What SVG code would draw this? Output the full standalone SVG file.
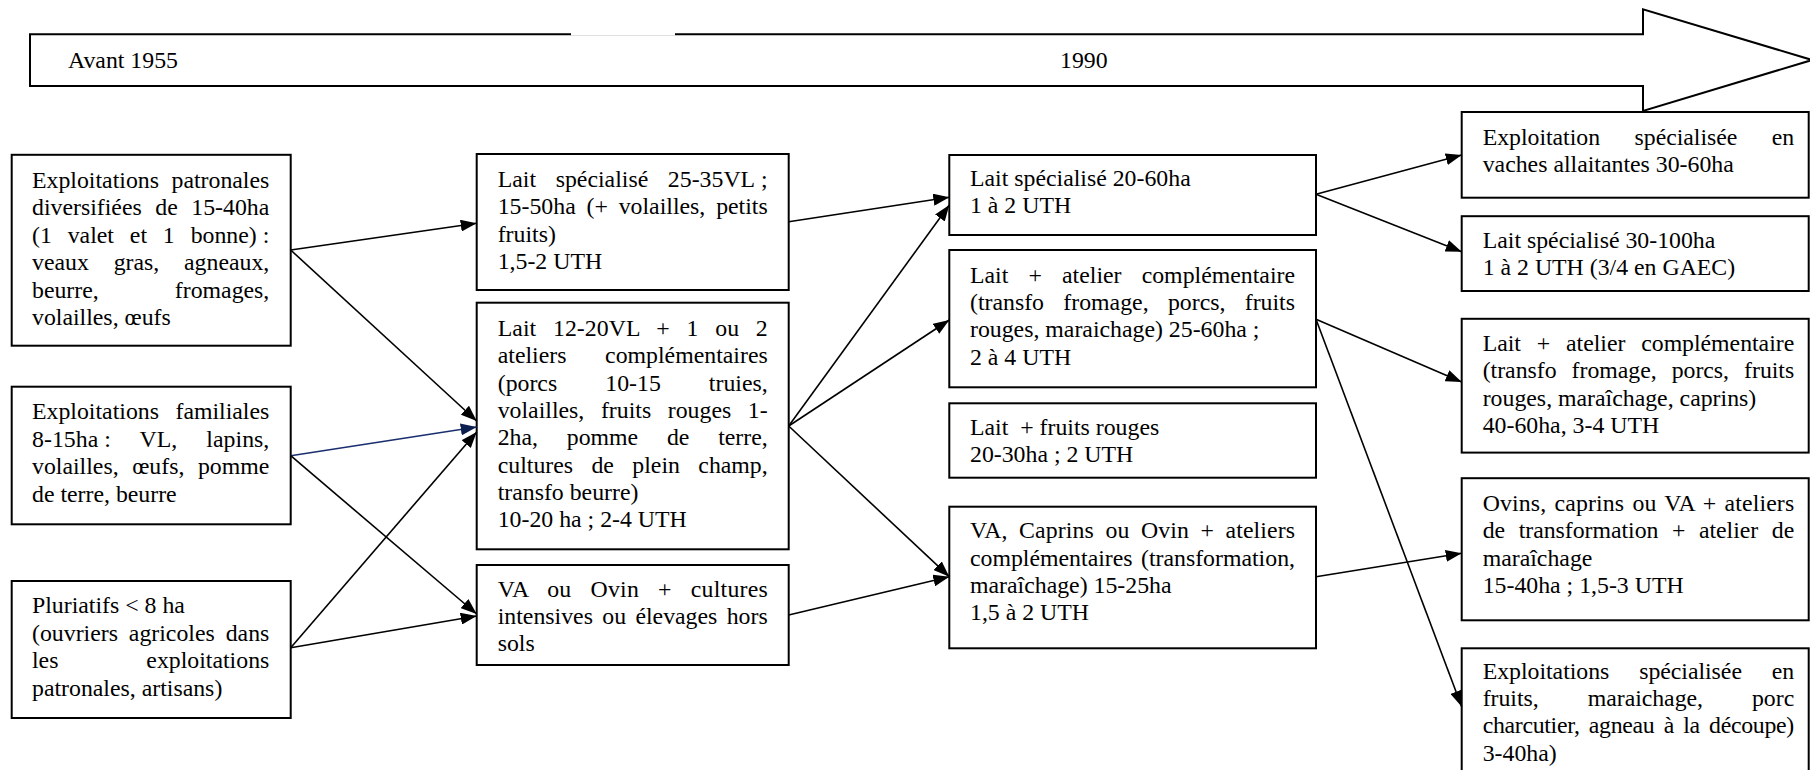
<svg xmlns="http://www.w3.org/2000/svg" width="1810" height="770" viewBox="0 0 1810 770">
<style>
.box{fill:#fff;stroke:#000;stroke-width:2}
.t{font-family:"Liberation Serif","Times New Roman",serif;font-size:23.8px;fill:#000}
.c{stroke:#000;stroke-width:1.6;fill:none;marker-end:url(#ah)}
.cb{stroke:#1a2f6e;stroke-width:1.6;fill:none;marker-end:url(#ahb)}
.n{word-spacing:0}
</style>
<defs>
<marker id="ah" viewBox="0 0 16 12" refX="16" refY="6" markerWidth="16" markerHeight="12" markerUnits="userSpaceOnUse" orient="auto"><path d="M0,0 L16,6 L0,12 z" fill="#000"/></marker>
<marker id="ahb" viewBox="0 0 16 12" refX="16" refY="6" markerWidth="16" markerHeight="12" markerUnits="userSpaceOnUse" orient="auto"><path d="M0,0 L16,6 L0,12 z" fill="#0d1f4f"/></marker>
</defs>
<rect width="1810" height="770" fill="#fff"/>

<g id="timeline">
<polygon points="30,34.3 1643,34.3 1643,9.3 1812,60 1643,111 1643,86 30,86" fill="#fff" stroke="#000" stroke-width="2"/>
<line x1="571" y1="34.3" x2="675" y2="34.3" stroke="#fff" stroke-width="2.4"/>
<text class="t" x="68" y="68">Avant 1955</text>
<text class="t" x="1060" y="68">1990</text>
</g>

<g id="n-patronales">
<rect class="box" x="11.7" y="154.8" width="279" height="190.9"/>
<text class="t" x="32" y="187.5" style="word-spacing:6.59px" textLength="237.3" lengthAdjust="spacing">Exploitations patronales</text>
<text class="t" x="32" y="215" style="word-spacing:7.62px" textLength="237.3" lengthAdjust="spacing">diversifiées de 15-40ha</text>
<text class="t" x="32" y="242.5" style="word-spacing:9.92px" textLength="237.3" lengthAdjust="spacing">(1 valet et 1 bonne)<tspan class="n">&#160;:</tspan></text>
<text class="t" x="32" y="270" style="word-spacing:18.86px" textLength="237.3" lengthAdjust="spacing">veaux gras, agneaux,</text>
<text class="t" x="32" y="297.5" style="word-spacing:70.11px" textLength="237.3" lengthAdjust="spacing">beurre, fromages,</text>
<text class="t" x="32" y="325">volailles, œufs</text>
</g>

<g id="n-familiales">
<rect class="box" x="11.7" y="386.7" width="279" height="137.6"/>
<text class="t" x="32" y="419.3" style="word-spacing:10.54px" textLength="237.3" lengthAdjust="spacing">Exploitations familiales</text>
<text class="t" x="32" y="446.7" style="word-spacing:23.13px" textLength="237.3" lengthAdjust="spacing">8-15ha<tspan class="n">&#160;:</tspan> VL, lapins,</text>
<text class="t" x="32" y="474.1" style="word-spacing:7.59px" textLength="237.3" lengthAdjust="spacing">volailles, œufs, pomme</text>
<text class="t" x="32" y="501.5">de terre, beurre</text>
</g>

<g id="n-pluriatifs">
<rect class="box" x="11.7" y="581" width="279" height="137"/>
<text class="t" x="32" y="613.3">Pluriatifs &lt; 8 ha</text>
<text class="t" x="32" y="640.7" style="word-spacing:4.97px" textLength="237.3" lengthAdjust="spacing">(ouvriers agricoles dans</text>
<text class="t" x="32" y="668.1" style="word-spacing:81.94px" textLength="237.3" lengthAdjust="spacing">les exploitations</text>
<text class="t" x="32" y="695.5">patronales, artisans)</text>
</g>

<g id="n-lait-spec-25">
<rect class="box" x="476.7" y="154" width="312" height="136"/>
<text class="t" x="497.7" y="186.7" style="word-spacing:13.71px" textLength="270" lengthAdjust="spacing">Lait spécialisé 25-35VL<tspan class="n">&#160;;</tspan></text>
<text class="t" x="497.7" y="214.1" style="word-spacing:4.88px" textLength="270" lengthAdjust="spacing">15-50ha (+ volailles, petits</text>
<text class="t" x="497.7" y="241.5">fruits)</text>
<text class="t" x="497.7" y="268.9">1,5-2 UTH</text>
</g>

<g id="n-lait-12-20">
<rect class="box" x="476.7" y="302.7" width="312" height="246.6"/>
<text class="t" x="497.7" y="336" style="word-spacing:10.73px" textLength="270" lengthAdjust="spacing">Lait 12-20VL + 1 ou 2</text>
<text class="t" x="497.7" y="363.3" style="word-spacing:32.73px" textLength="270" lengthAdjust="spacing">ateliers complémentaires</text>
<text class="t" x="497.7" y="390.6" style="word-spacing:42.14px" textLength="270" lengthAdjust="spacing">(porcs 10-15 truies,</text>
<text class="t" x="497.7" y="417.9" style="word-spacing:10.68px" textLength="270" lengthAdjust="spacing">volailles, fruits rouges 1-</text>
<text class="t" x="497.7" y="445.2" style="word-spacing:22.8px" textLength="270" lengthAdjust="spacing">2ha, pomme de terre,</text>
<text class="t" x="497.7" y="472.5" style="word-spacing:12.45px" textLength="270" lengthAdjust="spacing">cultures de plein champ,</text>
<text class="t" x="497.7" y="499.8">transfo beurre)</text>
<text class="t" x="497.7" y="527.1">10-20 ha ; 2-4 UTH</text>
</g>

<g id="n-va-ovin">
<rect class="box" x="476.7" y="565" width="312" height="100"/>
<text class="t" x="497.7" y="596.7" style="word-spacing:12.92px" textLength="270" lengthAdjust="spacing">VA ou Ovin + cultures</text>
<text class="t" x="497.7" y="624" style="word-spacing:3.4px" textLength="270" lengthAdjust="spacing">intensives ou élevages hors</text>
<text class="t" x="497.7" y="651.3">sols</text>
</g>

<g id="n-lait-spec-20">
<rect class="box" x="949.3" y="155" width="366.7" height="80"/>
<text class="t" x="970" y="186">Lait spécialisé 20-60ha</text>
<text class="t" x="970" y="213.3">1 à 2 UTH</text>
</g>

<g id="n-lait-atelier">
<rect class="box" x="949.3" y="250" width="366.7" height="137.3"/>
<text class="t" x="970" y="282.7" style="word-spacing:14.18px" textLength="325" lengthAdjust="spacing">Lait + atelier complémentaire</text>
<text class="t" x="970" y="310" style="word-spacing:13.38px" textLength="325" lengthAdjust="spacing">(transfo fromage, porcs, fruits</text>
<text class="t" x="970" y="337.3">rouges, maraichage) 25-60ha ;</text>
<text class="t" x="970" y="364.6">2 à 4 UTH</text>
</g>

<g id="n-lait-fruits">
<rect class="box" x="949.3" y="403.3" width="366.7" height="74.4"/>
<text class="t" x="970" y="435" xml:space="preserve">Lait  + fruits rouges</text>
<text class="t" x="970" y="462.3">20-30ha ; 2 UTH</text>
</g>

<g id="n-va-caprins">
<rect class="box" x="949.3" y="506.7" width="366.7" height="141.6"/>
<text class="t" x="970" y="538.3" style="word-spacing:5.46px" textLength="325" lengthAdjust="spacing">VA, Caprins ou Ovin + ateliers</text>
<text class="t" x="970" y="565.6" style="word-spacing:2.43px" textLength="325" lengthAdjust="spacing">complémentaires (transformation,</text>
<text class="t" x="970" y="592.9">maraîchage) 15-25ha</text>
<text class="t" x="970" y="620.2">1,5 à 2 UTH</text>
</g>

<g id="n-vaches-allaitantes">
<rect class="box" x="1461.7" y="112" width="347" height="85.7"/>
<text class="t" x="1482.7" y="145" style="word-spacing:28.57px" textLength="311.5" lengthAdjust="spacing">Exploitation spécialisée en</text>
<text class="t" x="1482.7" y="172.4">vaches allaitantes 30-60ha</text>
</g>

<g id="n-lait-spec-30">
<rect class="box" x="1461.7" y="216.2" width="347" height="74.8"/>
<text class="t" x="1482.7" y="248">Lait spécialisé 30-100ha</text>
<text class="t" x="1482.7" y="275.4">1 à 2 UTH (3/4 en GAEC)</text>
</g>

<g id="n-lait-atelier-caprins">
<rect class="box" x="1461.7" y="318.8" width="347" height="133.8"/>
<text class="t" x="1482.7" y="351" style="word-spacing:9.95px" textLength="311.5" lengthAdjust="spacing">Lait + atelier complémentaire</text>
<text class="t" x="1482.7" y="378.4" style="word-spacing:9.14px" textLength="311.5" lengthAdjust="spacing">(transfo fromage, porcs, fruits</text>
<text class="t" x="1482.7" y="405.8">rouges, maraîchage, caprins)</text>
<text class="t" x="1482.7" y="433.2">40-60ha, 3-4 UTH</text>
</g>

<g id="n-ovins-caprins">
<rect class="box" x="1461.7" y="478.2" width="347" height="142.1"/>
<text class="t" x="1482.7" y="510.8" style="word-spacing:2.14px" textLength="311.5" lengthAdjust="spacing">Ovins, caprins ou VA + ateliers</text>
<text class="t" x="1482.7" y="538.2" style="word-spacing:7.63px" textLength="311.5" lengthAdjust="spacing">de transformation + atelier de</text>
<text class="t" x="1482.7" y="565.6">maraîchage</text>
<text class="t" x="1482.7" y="593">15-40ha ; 1,5-3 UTH</text>
</g>

<g id="n-fruits-maraichage">
<rect class="box" x="1461.7" y="648.3" width="347" height="140"/>
<text class="t" x="1482.7" y="678.5" style="word-spacing:23.94px" textLength="311.5" lengthAdjust="spacing">Exploitations spécialisée en</text>
<text class="t" x="1482.7" y="706" style="word-spacing:43.14px" textLength="311.5" lengthAdjust="spacing">fruits, maraichage, porc</text>
<text class="t" x="1482.7" y="733.4" style="word-spacing:3.64px" textLength="311.5" lengthAdjust="spacing">charcutier, agneau à la découpe)</text>
<text class="t" x="1482.7" y="760.8">3-40ha)</text>
</g>

<g id="connectors">
<line class="c" x1="290.7" y1="250" x2="476.7" y2="223.3"/>
<line class="c" x1="290.7" y1="250" x2="476.7" y2="421"/>
<line class="cb" x1="290.7" y1="455.7" x2="476.7" y2="427"/>
<line class="c" x1="290.7" y1="455.7" x2="476.7" y2="614"/>
<line class="c" x1="290.7" y1="647.7" x2="476.7" y2="432"/>
<line class="c" x1="290.7" y1="647.7" x2="476.7" y2="616"/>
<line class="c" x1="788.7" y1="221.7" x2="949.3" y2="197.3"/>
<line class="c" x1="788.7" y1="426" x2="949.3" y2="205"/>
<line class="c" x1="788.7" y1="426" x2="949.3" y2="320"/>
<line class="c" x1="788.7" y1="426" x2="949.3" y2="576.7"/>
<line class="c" x1="788.7" y1="615" x2="949.3" y2="576.7"/>
<line class="c" x1="1316" y1="194.3" x2="1461.7" y2="155"/>
<line class="c" x1="1316" y1="194.3" x2="1461.7" y2="251.7"/>
<line class="c" x1="1316" y1="319.3" x2="1461.7" y2="382"/>
<line class="c" x1="1316" y1="319.3" x2="1461.7" y2="706.7"/>
<line class="c" x1="1316" y1="576.7" x2="1461.7" y2="553.3"/>
</g>
</svg>
